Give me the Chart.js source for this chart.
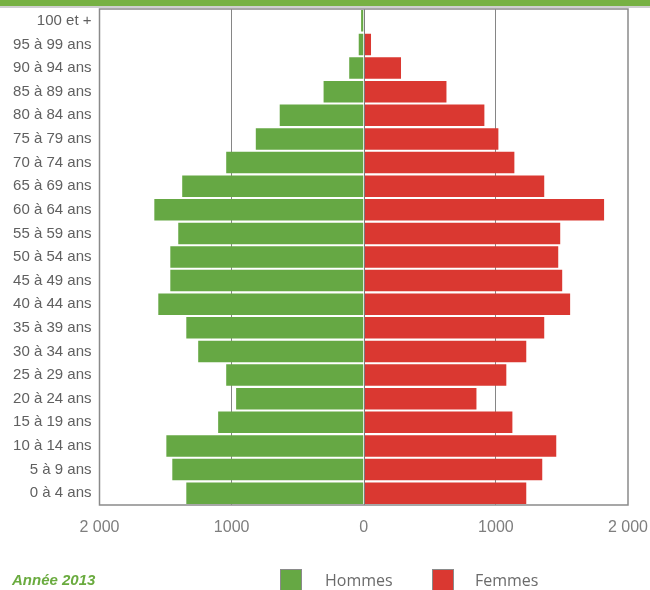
<!DOCTYPE html>
<html>
<head>
<meta charset="utf-8">
<script src="https://cdn.jsdelivr.net/npm/chart.js@4/dist/chart.umd.min.js"></script>
<style>
  html, body { margin: 0; padding: 0; background: #fff; }
  #wrap { position: relative; width: 650px; height: 590px; overflow: hidden; }
  #band { position: absolute; left: 0; top: 0; width: 650px; height: 6px; background: #77b143; border-bottom: 2px solid #cfcfcf; }
  #year { position: absolute; left: 12px; top: 571px; font: italic bold 15px "Liberation Sans", Arial, sans-serif; color: #6aab3f; }
  .lg-box { position: absolute; width: 22px; height: 22px; border: 1px solid #8a8a8a; box-sizing: border-box; }
  .lg-txt { position: absolute; font: 16px "Open Sans", sans-serif; color: #6b6b6b; line-height: 20px; }
</style>
</head>
<body>
<div id="wrap">
  <canvas id="c"></canvas>
  <div id="band"></div>
  <div id="year">Année 2013</div>
  <div id="legend"></div>
</div>
<script>
const ageGroups = ['100 et +','95 à 99 ans','90 à 94 ans','85 à 89 ans','80 à 84 ans','75 à 79 ans','70 à 74 ans','65 à 69 ans','60 à 64 ans','55 à 59 ans','50 à 54 ans','45 à 49 ans','40 à 44 ans','35 à 39 ans','30 à 34 ans','25 à 29 ans','20 à 24 ans','15 à 19 ans','10 à 14 ans','5 à 9 ans','0 à 4 ans'];
const hommes = [20, 38, 110, 304, 636, 817, 1041, 1374, 1585, 1404, 1464, 1464, 1555, 1343, 1253, 1041, 966, 1102, 1494, 1449, 1343];
const femmes = [3, 55, 282, 626, 913, 1019, 1140, 1366, 1819, 1487, 1472, 1502, 1562, 1366, 1230, 1079, 853, 1125, 1457, 1351, 1230];
const xTickValues = [-2000, -1000, 0, 1000, 2000];
const xTickLabels = ['2 000', '1000', '0', '1000', '2 000'];
const seriesNames = ['Hommes', 'Femmes'];

const colHommes = '#66a844';
const colFemmes = '#da3831';

const framePlugin = {
  id: 'frame',
  afterDatasetsDraw(chart) {
    const { ctx, chartArea: a, scales } = chart;
    ctx.save();
    const x0 = Math.round(scales.x.getPixelForValue(0)) + 0.5;
    ctx.strokeStyle = '#7d7d7d';
    ctx.lineWidth = 1;
    ctx.beginPath();
    ctx.moveTo(x0, a.top);
    ctx.lineTo(x0, a.bottom);
    ctx.stroke();
    ctx.strokeStyle = '#8a8a8a';
    ctx.lineWidth = 1.5;
    ctx.strokeRect(a.left, a.top, a.right - a.left, a.bottom - a.top);
    ctx.restore();
  }
};

const chart = new Chart(document.getElementById('c'), {
  type: 'bar',
  data: {
    labels: ageGroups,
    datasets: [
      { label: seriesNames[0], data: hommes.map(v => -v), backgroundColor: colHommes, borderWidth: 0 },
      { label: seriesNames[1], data: femmes, backgroundColor: colFemmes, borderWidth: 0 }
    ]
  },
  options: {
    indexAxis: 'y',
    responsive: true,
    maintainAspectRatio: false,
    animation: false,
    layout: { padding: { left: 0, right: 22, top: 9, bottom: 55 } },
    datasets: { bar: { barPercentage: 0.91, categoryPercentage: 1.0 } },
    plugins: {
      legend: { display: false },
      tooltip: { enabled: false }
    },
    scales: {
      x: {
        stacked: true,
        min: -2000,
        max: 2000,
        afterBuildTicks: s => { s.ticks = xTickValues.map(v => ({ value: v })); },
        afterFit: s => { s.height = 30; s.paddingLeft = 0; s.paddingRight = 0; },
        ticks: {
          padding: 13,
          color: '#7e7e7e',
          font: { family: '"Liberation Sans", Arial, sans-serif', size: 16 },
          callback: (v) => xTickLabels[xTickValues.indexOf(v)],
          maxRotation: 0
        },
        grid: {
          drawTicks: false,
          color: ctx => (ctx.tick && Math.abs(ctx.tick.value) === 1000) ? '#868686' : 'rgba(0,0,0,0)',
          lineWidth: 1
        },
        border: { display: false }
      },
      y: {
        stacked: true,
        afterFit: s => { s.width = 99.5; s.paddingTop = 0; s.paddingBottom = 0; },
        ticks: {
          padding: 8,
          color: '#606060',
          font: { family: '"Liberation Sans", Arial, sans-serif', size: 15 },
          autoSkip: false
        },
        grid: { display: false, drawTicks: false },
        border: { display: false }
      }
    }
  },
  plugins: [framePlugin]
});

const lg = document.getElementById('legend');
const positions = [{ box: 280, txt: 325 }, { box: 432, txt: 475 }];
chart.data.datasets.forEach((ds, i) => {
  const b = document.createElement('div');
  b.className = 'lg-box';
  b.style.left = positions[i].box + 'px';
  b.style.top = '569px';
  b.style.background = ds.backgroundColor;
  lg.appendChild(b);
  const t = document.createElement('div');
  t.className = 'lg-txt';
  t.style.left = positions[i].txt + 'px';
  t.style.top = '570px';
  t.textContent = ds.label;
  lg.appendChild(t);
});
</script>
</body>
</html>
